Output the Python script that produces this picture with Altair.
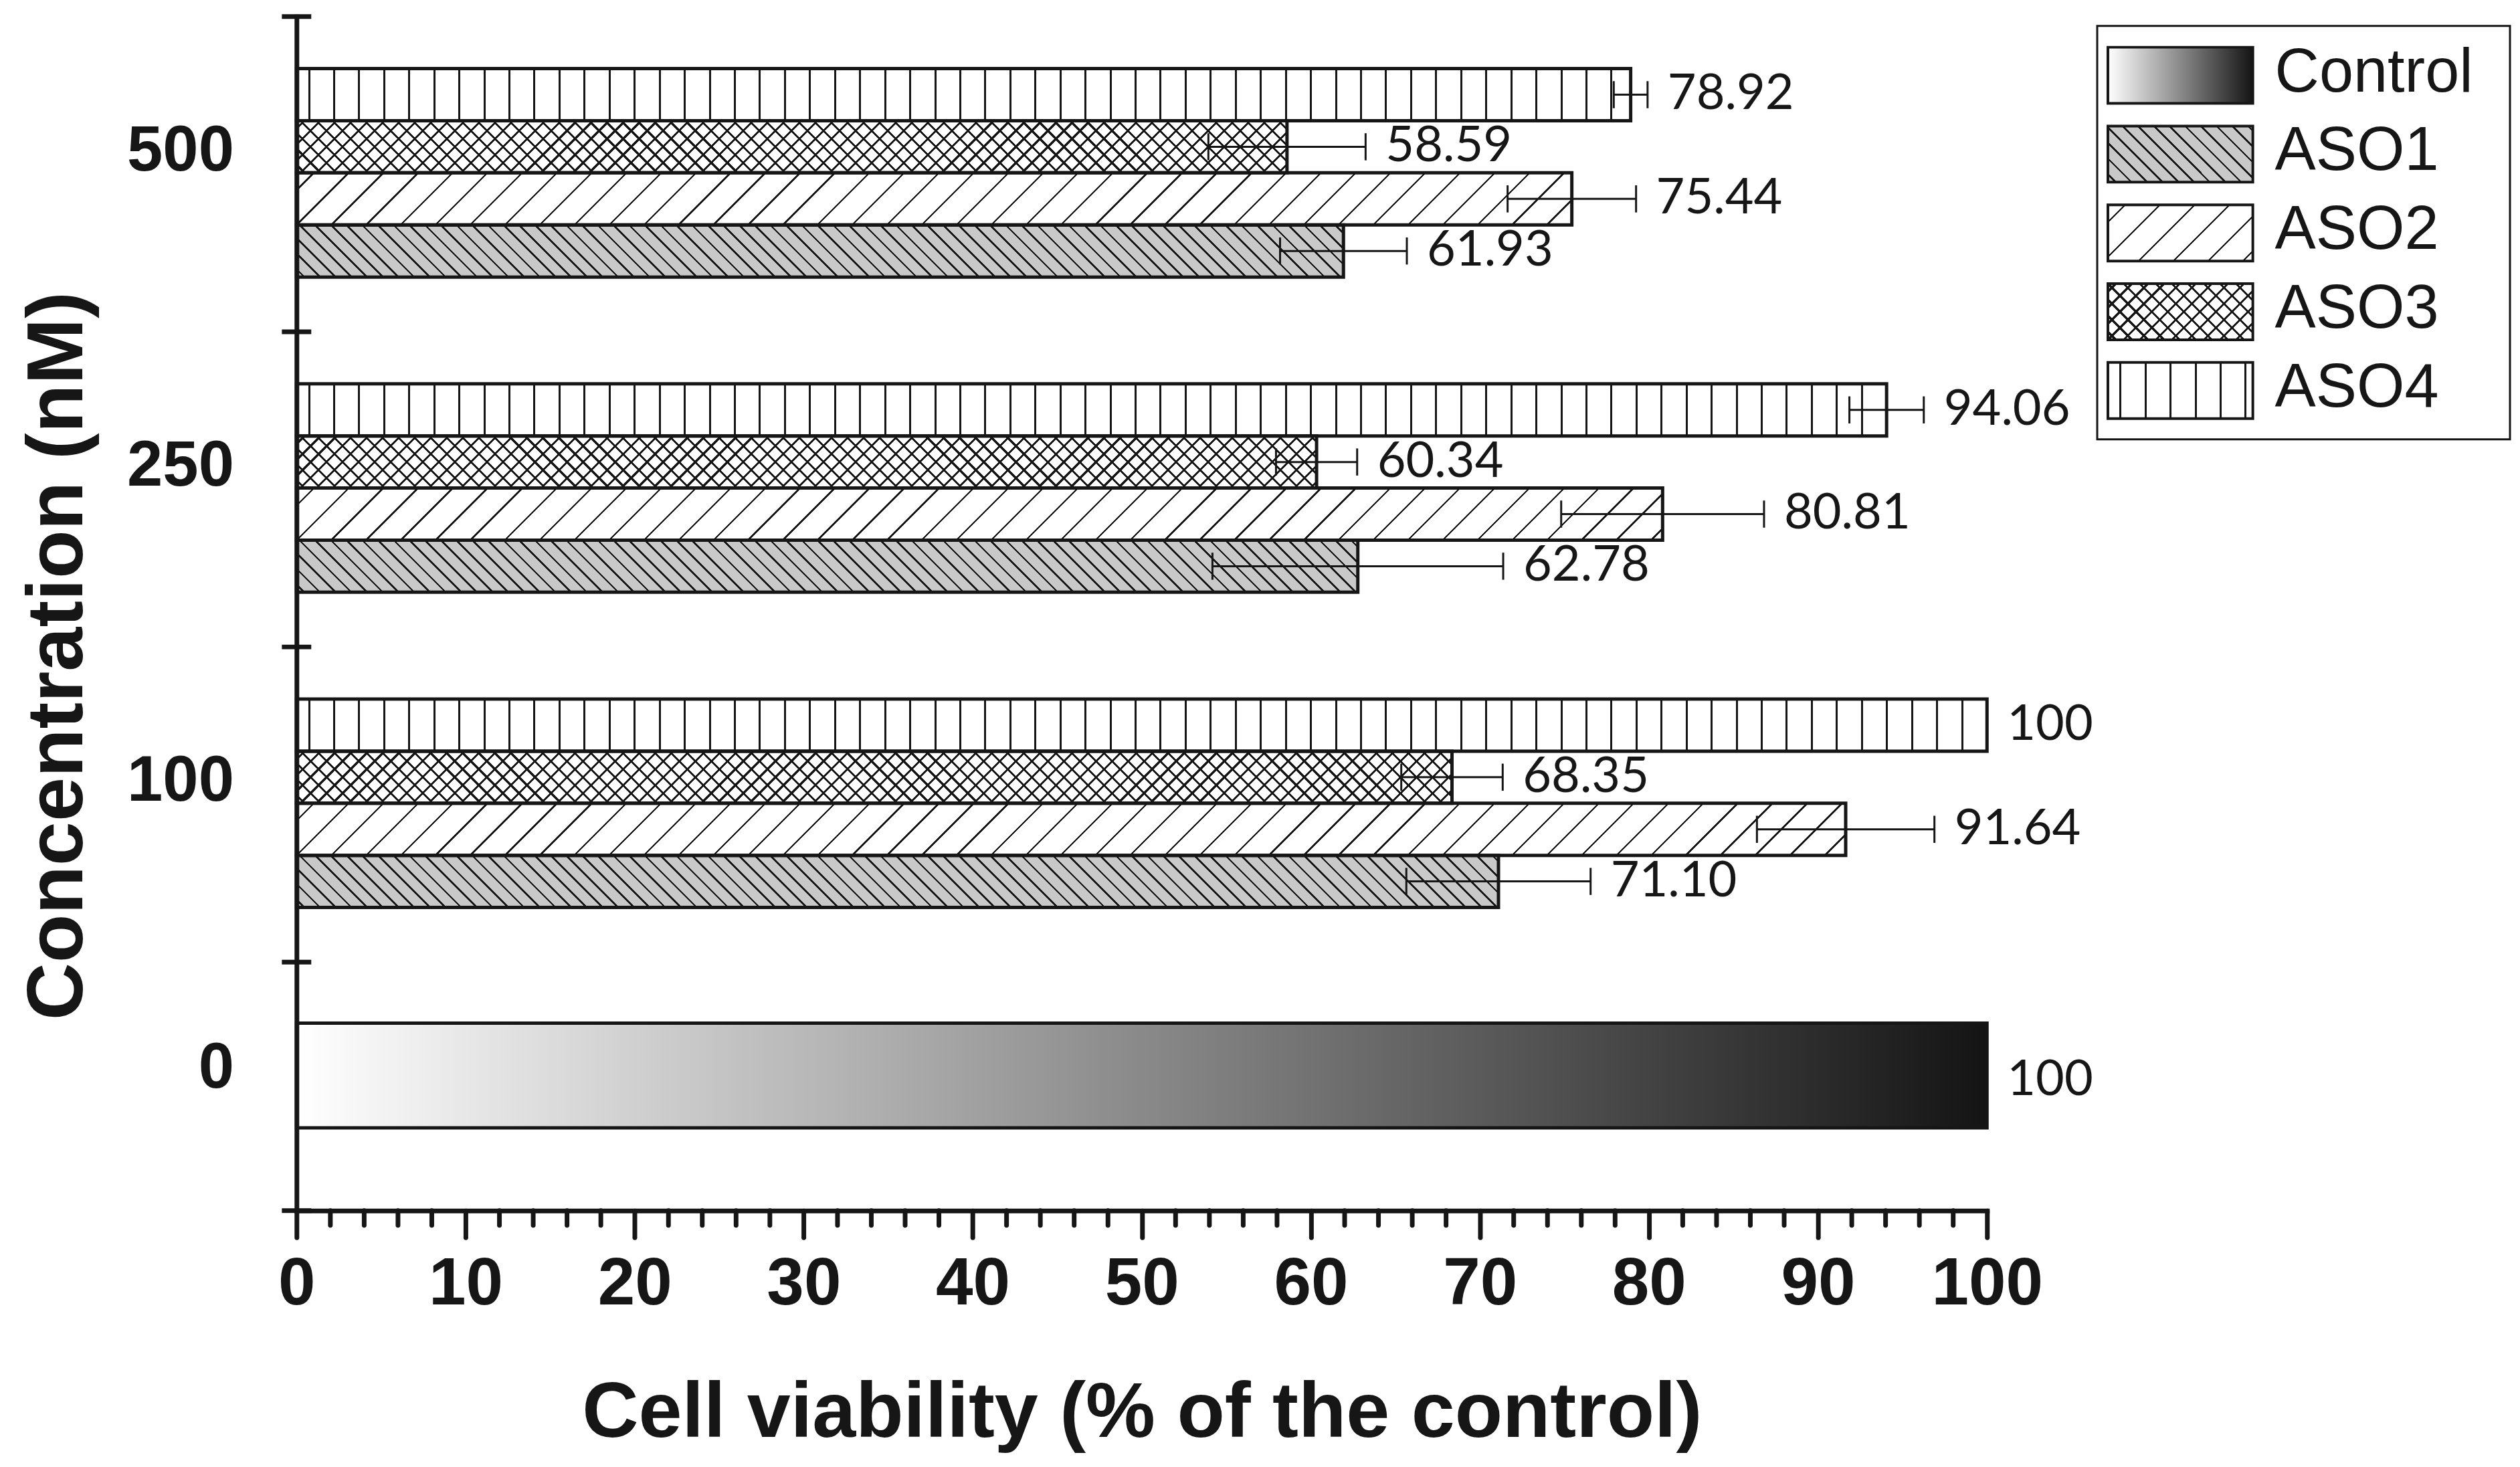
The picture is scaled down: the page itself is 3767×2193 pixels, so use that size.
import math
import altair as alt
import pandas as pd

# ---------------- data ----------------
concentrations = ["500", "250", "100"]
series_names = ["ASO4", "ASO3", "ASO2", "ASO1"]          # top -> bottom inside each group
aso1_values = [61.93, 62.78, 71.10]
aso2_values = [75.44, 80.81, 91.64]
aso3_values = [58.59, 60.34, 68.35]
aso4_values = [78.92, 94.06, 100.0]
aso1_errors = [3.75, 8.6, 5.45]
aso2_errors = [3.8, 6.0, 5.25]
aso3_errors = [4.65, 2.4, 3.0]
aso4_errors = [1.0, 2.2, 0.0]
control_concentration = "0"
control_values = [100.0]
control_errors = [0.0]
legend_labels = ["Control", "ASO1", "ASO2", "ASO3", "ASO4"]
x_major_ticks = [0, 10, 20, 30, 40, 50, 60, 70, 80, 90, 100]
x_minor_ticks = [t for t in range(0, 101, 2) if t % 10]
y_axis_labels = ["500", "250", "100", "0"]
x_title = "Cell viability (% of the control)"
y_title = "Concentration (nM)"

# ---------------- layout / style ----------------
PLOT_W, PLOT_H = 2531, 1788
Y_MAX = 22.92
UNIT = PLOT_H / Y_MAX
GROUP_STEP = 6.05
CONTROL_SPAN = (19.32, 21.33)
INK = "#161616"
CLEAR = "rgba(0,0,0,0)"
FONT = "Liberation Sans"

values_by = {"ASO1": aso1_values, "ASO2": aso2_values, "ASO3": aso3_values, "ASO4": aso4_values}
errors_by = {"ASO1": aso1_errors, "ASO2": aso2_errors, "ASO3": aso3_errors, "ASO4": aso4_errors}

rows = []
for g, conc in enumerate(concentrations):
    for s, name in enumerate(series_names):
        y0 = g * GROUP_STEP + 1 + s
        rows.append(dict(key=f"{name}-{conc}", series=name, value=values_by[name][g],
                         err=errors_by[name][g], y0=y0, y1=y0 + 1))
rows.append(dict(key="Control-0", series="Control", value=control_values[0],
                 err=control_errors[0], y0=CONTROL_SPAN[0], y1=CONTROL_SPAN[1]))
df = pd.DataFrame(rows)
df["zero"] = 0.0
df["yc"] = (df["y0"] + df["y1"]) / 2
df["ylab"] = df["yc"] + (df["series"] == "Control") * 0.09
df["lo"] = df["value"] - df["err"]
df["hi"] = df["value"] + df["err"]
df["cap0"] = df["yc"] - 0.26
df["cap1"] = df["yc"] + 0.26
df["label"] = [("100" if v == 100 else f"{v:.2f}") for v in df["value"]]


# ---------------- hatch patterns as striped gradients ----------------
def build_stops(centers, hw, line, bg):
    stops = [{"offset": 0, "color": bg}]
    last = 0.0
    for c in centers:
        lo, hi = max(0.0, c - hw), min(1.0, c + hw)
        if hi <= 0 or lo >= 1:
            continue
        lo, hi = round(max(lo, last), 6), round(hi, 6)
        stops += [{"offset": lo, "color": bg}, {"offset": lo, "color": line},
                  {"offset": hi, "color": line}, {"offset": hi, "color": bg}]
        last = hi
    stops.append({"offset": 1, "color": bg})
    return stops


def vertical(W, H, period, lw, line, bg):
    centers, x = [], period / 2
    while x < W:
        centers.append(x / W)
        x += period
    return {"gradient": "linear", "x1": 0, "y1": 0, "x2": 1, "y2": 0,
            "stops": build_stops(centers, lw / 2 / W, line, bg)}


def diagonal(W, H, kind, spacing, lw, line, bg):
    T = W + H
    a, b = W / T, H / T
    den = a * a + b * b
    if kind == "/":
        x1, y1, x2, y2 = 0, 0, a / den, b / den
    else:
        x1, y1, x2, y2 = 0, 1, a / den, 1 - b / den
    centers, c = [], spacing / 2
    while c < T:
        centers.append(c / T)
        c += spacing
    wh = lw * math.sqrt(2)
    return {"gradient": "linear", "x1": x1, "y1": y1, "x2": round(x2, 6), "y2": round(y2, 6),
            "stops": build_stops(centers, wh / 2 / T, line, bg)}


def fills_for(series, W, H):
    if series == "Control":
        return [{"gradient": "linear", "x1": 0, "y1": 0, "x2": 1, "y2": 0,
                 "stops": [{"offset": 0, "color": "#ffffff"}, {"offset": 1, "color": "#141414"}]}]
    if series == "ASO1":
        return [diagonal(W, H, "\\", 23.5, 2.6, INK, "#c9c9c9")]
    if series == "ASO2":
        return [diagonal(W, H, "/", 52, 2.4, INK, "#ffffff")]
    if series == "ASO3":
        return [diagonal(W, H, "/", 24, 3.0, INK, "#ffffff"),
                diagonal(W, H, "\\", 24, 3.0, INK, CLEAR)]
    return [vertical(W, H, 37.5, 3.0, INK, "#ffffff")]


# ---------------- scales / axes ----------------
XS = alt.Scale(domain=[0, 100], nice=False, zero=True)
YS = alt.Scale(domain=[0, Y_MAX], reverse=True, nice=False, zero=False)

label_pos = [g * GROUP_STEP + 3 for g in range(len(concentrations))] + [sum(CONTROL_SPAN) / 2]
label_expr = " : ".join(f"abs(datum.value - {p}) < 0.01 ? '{t}'" for p, t in zip(label_pos, y_axis_labels)) + " : ''"

XAX = alt.Axis(values=x_major_ticks, format="d", tickSize=40, tickWidth=7, tickColor=INK,
               tickCap="round", domainColor=INK, domainWidth=7, domainCap="square",
               labelFont=FONT, labelFontWeight="bold", labelFontSize=100, labelColor=INK,
               labelPadding=21, labelFlush=False, labelOverlap=False,
               title=x_title, titleFont=FONT, titleFontSize=117, titleFontWeight="bold",
               titleColor=INK, titlePadding=86, grid=False, zindex=1)
YAX = alt.Axis(values=label_pos, labelExpr=label_expr, ticks=False, domainColor=INK,
               domainWidth=7, domainCap="square", labelFont=FONT, labelFontWeight="bold",
               labelFontSize=96, labelColor=INK, labelAlign="right", labelBaseline="middle",
               labelPadding=94, labelOverlap=False,
               labelOffset={"condition": {"test": "datum.value > 19", "value": -11}, "value": -33},
               title=y_title, titleFont=FONT, titleFontSize=119, titleFontWeight="bold",
               titleColor=INK, titlePadding=96, titleY=957, grid=False, zindex=1)


def X(f):
    return alt.X(f, type="quantitative", scale=XS, axis=XAX)


def Y(f):
    return alt.Y(f, type="quantitative", scale=YS, axis=YAX)


base = alt.Chart(df)
main_layers = []
for _, r in df.iterrows():
    W = r["value"] / 100 * PLOT_W
    H = (r["y1"] - r["y0"]) * UNIT
    for grad in fills_for(r["series"], W, H):
        main_layers.append(
            base.transform_filter(alt.datum.key == r["key"])
            .mark_rect(fill=grad, strokeWidth=0)
            .encode(x=X("zero"), x2="value:Q", y=Y("y0"), y2="y1:Q")
        )

main_layers.append(base.mark_rect(fill="transparent", stroke=INK, strokeWidth=5)
                   .encode(x=X("zero"), x2="value:Q", y=Y("y0"), y2="y1:Q"))

err = base.transform_filter(alt.datum.err > 0)
main_layers.append(err.mark_rule(color=INK, strokeWidth=3).encode(x=X("lo"), x2="hi:Q", y=Y("yc")))
main_layers.append(err.mark_rule(color=INK, strokeWidth=3).encode(x=X("lo"), y=Y("cap0"), y2="cap1:Q"))
main_layers.append(err.mark_rule(color=INK, strokeWidth=3).encode(x=X("hi"), y=Y("cap0"), y2="cap1:Q"))

main_layers.append(base.mark_text(align="left", baseline="middle", dx=30, font="Lato",
                                  fontSize=74, color=INK)
                   .encode(x=X("hi"), y=Y("ylab"), text="label:N"))

y_bounds = pd.DataFrame({"b": [g * GROUP_STEP for g in range(4)] + [Y_MAX]})
main_layers.append(alt.Chart(y_bounds).mark_rule(color=INK, strokeWidth=7)
                   .encode(x=alt.value(-22), x2=alt.value(22), y=Y("b")))

minor = pd.DataFrame({"t": x_minor_ticks})
main_layers.append(alt.Chart(minor).mark_rule(color=INK, strokeWidth=7, strokeCap="round")
                   .encode(x=X("t"), y=alt.value(PLOT_H), y2=alt.value(PLOT_H + 22)))

main = alt.layer(*main_layers)

# ---------------- legend ----------------
legend_df = pd.DataFrame({"label": legend_labels})
LS = alt.Scale(domain=legend_labels, range=[29, 619], paddingInner=0.288, paddingOuter=0.144)
LX0, LX1, LTX = 2712, 2929, 2962
leg_layers = [alt.Chart(legend_df.head(1)).mark_rect(fill="white", stroke=INK, strokeWidth=3)
              .encode(x=alt.value(2696), x2=alt.value(3314), y=alt.value(14), y2=alt.value(633))]
lbase = alt.Chart(legend_df)
for lab in legend_labels:
    for grad in fills_for(lab, LX1 - LX0, 84):
        leg_layers.append(lbase.transform_filter(alt.datum.label == lab)
                          .mark_rect(fill=grad, strokeWidth=0)
                          .encode(x=alt.value(LX0), x2=alt.value(LX1),
                                  y=alt.Y("label:N", scale=LS, axis=None)))
leg_layers.append(lbase.mark_rect(fill="transparent", stroke=INK, strokeWidth=4)
                  .encode(x=alt.value(LX0), x2=alt.value(LX1), y=alt.Y("label:N", scale=LS, axis=None)))
leg_layers.append(lbase.mark_text(align="left", baseline="middle", font=FONT, fontSize=92,
                                  color=INK, dy=-4)
                  .encode(x=alt.value(LTX), y=alt.Y("label:N", scale=LS, axis=None), text="label:N"))
legend = alt.layer(*leg_layers)

chart = (
    alt.layer(main, legend)
    .resolve_scale(y="independent")
    .properties(width=PLOT_W, height=PLOT_H,
                padding={"left": 436, "top": 15, "right": 790, "bottom": 362},
                autosize=alt.AutoSizeParams(type="none"))
    .configure(background="white")
    .configure_view(stroke="transparent", strokeWidth=0)
)

chart.save("out.html", embed_options={"renderer": "svg", "actions": False})
